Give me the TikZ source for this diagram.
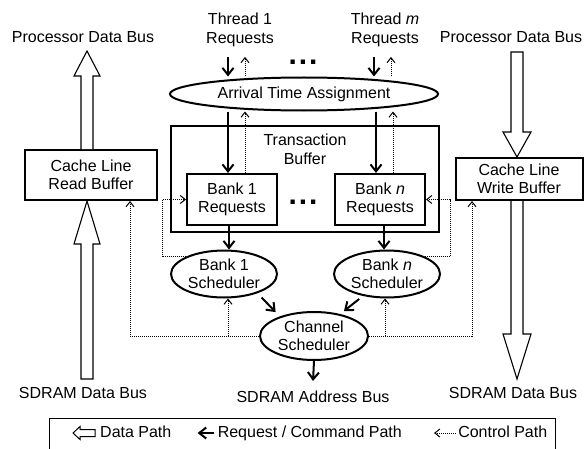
\documentclass[tikz,border=0pt]{standalone}
\usepackage{fontspec}
\setmainfont{Liberation Sans}
\usetikzlibrary{positioning}
\usetikzlibrary{shapes.geometric, arrows.meta}
\tikzstyle{block} = [rectangle, draw=black, line width=2pt, align=center, inner sep=0pt]
\tikzstyle{oval} = [ellipse, draw=black, line width=2pt, align=center, inner sep=-6pt]
\tikzstyle{lbl} = [align=center, inner sep=2pt]
\tikzstyle{legtext} = [inner sep=0pt, anchor=west, text height=11.7pt, text depth=3.4pt]
\tikzstyle{dots} = [inner sep=0pt, font=\fontsize{30}{30}\selectfont\bfseries]
\tikzstyle{reqarrow} = [line width=2pt, -{Straight Barb[length=7pt,width=11pt]}]
\tikzstyle{ctrlarrow} = [line width=1pt, dash pattern=on 1pt off 1pt, -{Straight Barb[length=5pt,width=8pt]}]
\tikzstyle{bus} = [line width=1.1pt, fill=white]

\begin{document}
\begin{tikzpicture}[x=1pt, y=1pt, font=\fontsize{16}{18.5}\selectfont]
    \useasboundingbox (0,0) rectangle (585,448);

        % Thread requests on top
        \node[lbl] (t1) at (240,418) {Thread 1\\Requests};
        \node[lbl] (tm) at (385,418) {Thread \textit{m}\\Requests};
        \node[dots] (topdots) at (303,386) {.\hspace{2pt}.\hspace{2pt}.};

        % Arrival time assignment
        \node[oval, minimum width=268pt, minimum height=33pt] (arrival) at (304,354) {Arrival Time Assignment};

        % Transaction buffer with the bank queues
        \node[block, minimum width=268pt, minimum height=106pt, label={[lbl, anchor=north, yshift=-7pt]north:Transaction\\Buffer}] (tbuf) at (305,269) {};
        \node[block, minimum width=90pt, minimum height=51pt] (b1req) at (232,248.5) {Bank 1\\Requests};
        \node[block, minimum width=90pt, minimum height=51pt, right=56pt of b1req] (bnreq) {Bank \textit{n}\\Requests};
        \node[dots] (middots) at (303,246) {.\hspace{2pt}.\hspace{2pt}.};

        % Schedulers
        \node[oval, minimum width=106pt, minimum height=47pt] (b1sch) at (224,174) {Bank 1\\Scheduler};
        \node[oval, minimum width=106pt, minimum height=47pt, right=55pt of b1sch] (bnsch) {Bank \textit{n}\\Scheduler};
        \node[oval, minimum width=108pt, minimum height=48pt] (chsch) at (314,112) {Channel\\Scheduler};
        \node[lbl] (addr) at (313,51) {SDRAM Address Bus};

        % Cache line buffers and buses
        \node[block, minimum width=132pt, minimum height=50pt] (rbuf) at (91,273) {Cache Line\\Read Buffer};
        \node[block, minimum width=127pt, minimum height=42pt] (wbuf) at (519,269) {Cache Line\\Write Buffer};
        \node[lbl] (procl) at (83,411) {Processor Data Bus};
        \node[lbl] (procr) at (511,411) {Processor Data Bus};
        \node[lbl] (sdraml) at (83,55) {SDRAM Data Bus};
        \node[lbl] (sdramr) at (513,55) {SDRAM Data Bus};

        % Data path
        \draw[bus] ([xshift=-10pt]rbuf.north) -- ++(0,73) -- ++(-7,0) -- ++(13,25) -- ++(13,-25) -- ++(-7,0) -- ++(0,-73);
        \draw[bus] ([xshift=-4pt]rbuf.south) -- ++(-13,-43) -- ++(7,0) -- ++(0,-135) -- ++(12,0) -- ++(0,135) -- ++(7,0) -- cycle;
        \draw[bus] ([xshift=-2pt]wbuf.north) -- ++(-14,25) -- ++(8,0) -- ++(0,80) -- ++(12,0) -- ++(0,-80) -- ++(8,0) -- cycle;
        \draw[bus] ([xshift=-8pt]wbuf.south) -- ++(0,-133) -- ++(-8,0) -- ++(14,-45) -- ++(14,45) -- ++(-8,0) -- ++(0,133);

        % Request / command path
        \draw[reqarrow] ([xshift=-12pt,yshift=-8pt]t1.south) -- ([xshift=-12pt]t1.south |- arrival.north);
        \draw[reqarrow] ([xshift=-11pt,yshift=-8pt]tm.south) -- ([xshift=-11pt]tm.south |- arrival.north);
        \draw[reqarrow] ([xshift=-4pt]b1req.north |- arrival.south) -- ([xshift=-4pt]b1req.north);
        \draw[reqarrow] ([xshift=-4pt]bnreq.north |- arrival.south) -- ([xshift=-4pt]bnreq.north);
        \draw[reqarrow] ([xshift=-3pt]b1req.south) -- ([xshift=-3pt]b1req.south |- b1sch.north);
        \draw[reqarrow] ([xshift=4pt]bnreq.south) -- ([xshift=4pt]bnreq.south |- bnsch.north);
        \draw[reqarrow] ([yshift=-6pt]b1sch.-25) -- ([yshift=6pt]chsch.155);
        \draw[reqarrow] ([yshift=-4pt]bnsch.-143) -- ([yshift=4pt]chsch.35);
        \draw[reqarrow] (chsch.south) -- ([yshift=8pt]addr.north);

        % Control path
        \draw[ctrlarrow] ([xshift=5pt]t1.south |- arrival.north) -- ([xshift=5pt,yshift=-8pt]t1.south);
        \draw[ctrlarrow] ([xshift=6pt]tm.south |- arrival.north) -- ([xshift=6pt,yshift=-8pt]tm.south);
        \draw[ctrlarrow] ([xshift=13pt]b1req.north) -- ([xshift=13pt]b1req.north |- arrival.south);
        \draw[ctrlarrow] ([xshift=13pt]bnreq.north) -- ([xshift=13pt]bnreq.north |- arrival.south);
        \draw[ctrlarrow] (b1sch.155) -| ([xshift=-24pt]b1req.west) -- (b1req.west);
        \draw[ctrlarrow] (bnsch.25) -| ([xshift=24pt]bnreq.east) -- (bnreq.east);
        \draw[ctrlarrow] (chsch.west) -| ([xshift=39pt]rbuf.south);
        \draw[ctrlarrow] (chsch.east) -| ([xshift=-47pt]wbuf.south);
        \draw[ctrlarrow] ([xshift=4pt]b1sch.south |- chsch.west) -- ([xshift=4pt]b1sch.south);
        \draw[ctrlarrow] ([xshift=-2pt]bnsch.south |- chsch.east) -- ([xshift=-2pt]bnsch.south);

        % Legend
        \node[block, line width=1pt, minimum width=506pt, minimum height=34pt] (legend) at (302,13) {};
        \node[legtext] (ldata) at (100,15) {Data Path};
        \node[legtext, right=46pt of ldata] (lreq) {Request / Command Path};
        \node[legtext, right=56pt of lreq] (lctrl) {Control Path};
        \coordinate (lreqtip) at ([xshift=-20pt]lreq.west);
        \coordinate (lctrltip) at ([xshift=-24pt]lctrl.west);
        \draw[bus, line width=1pt] ([xshift=-5pt]ldata.west) -- ++(0,3.5) -- ++(-15,0) -- ++(0,3) -- ++(-7,-6.5) -- ++(7,-6.5) -- ++(0,3) -- ++(15,0) -- cycle;
        \draw[reqarrow] ([xshift=-4pt]lreq.west) -- (lreqtip);
        \draw[ctrlarrow] ([xshift=-2pt]lctrl.west) -- (lctrltip);

    \end{tikzpicture}
\end{document}
